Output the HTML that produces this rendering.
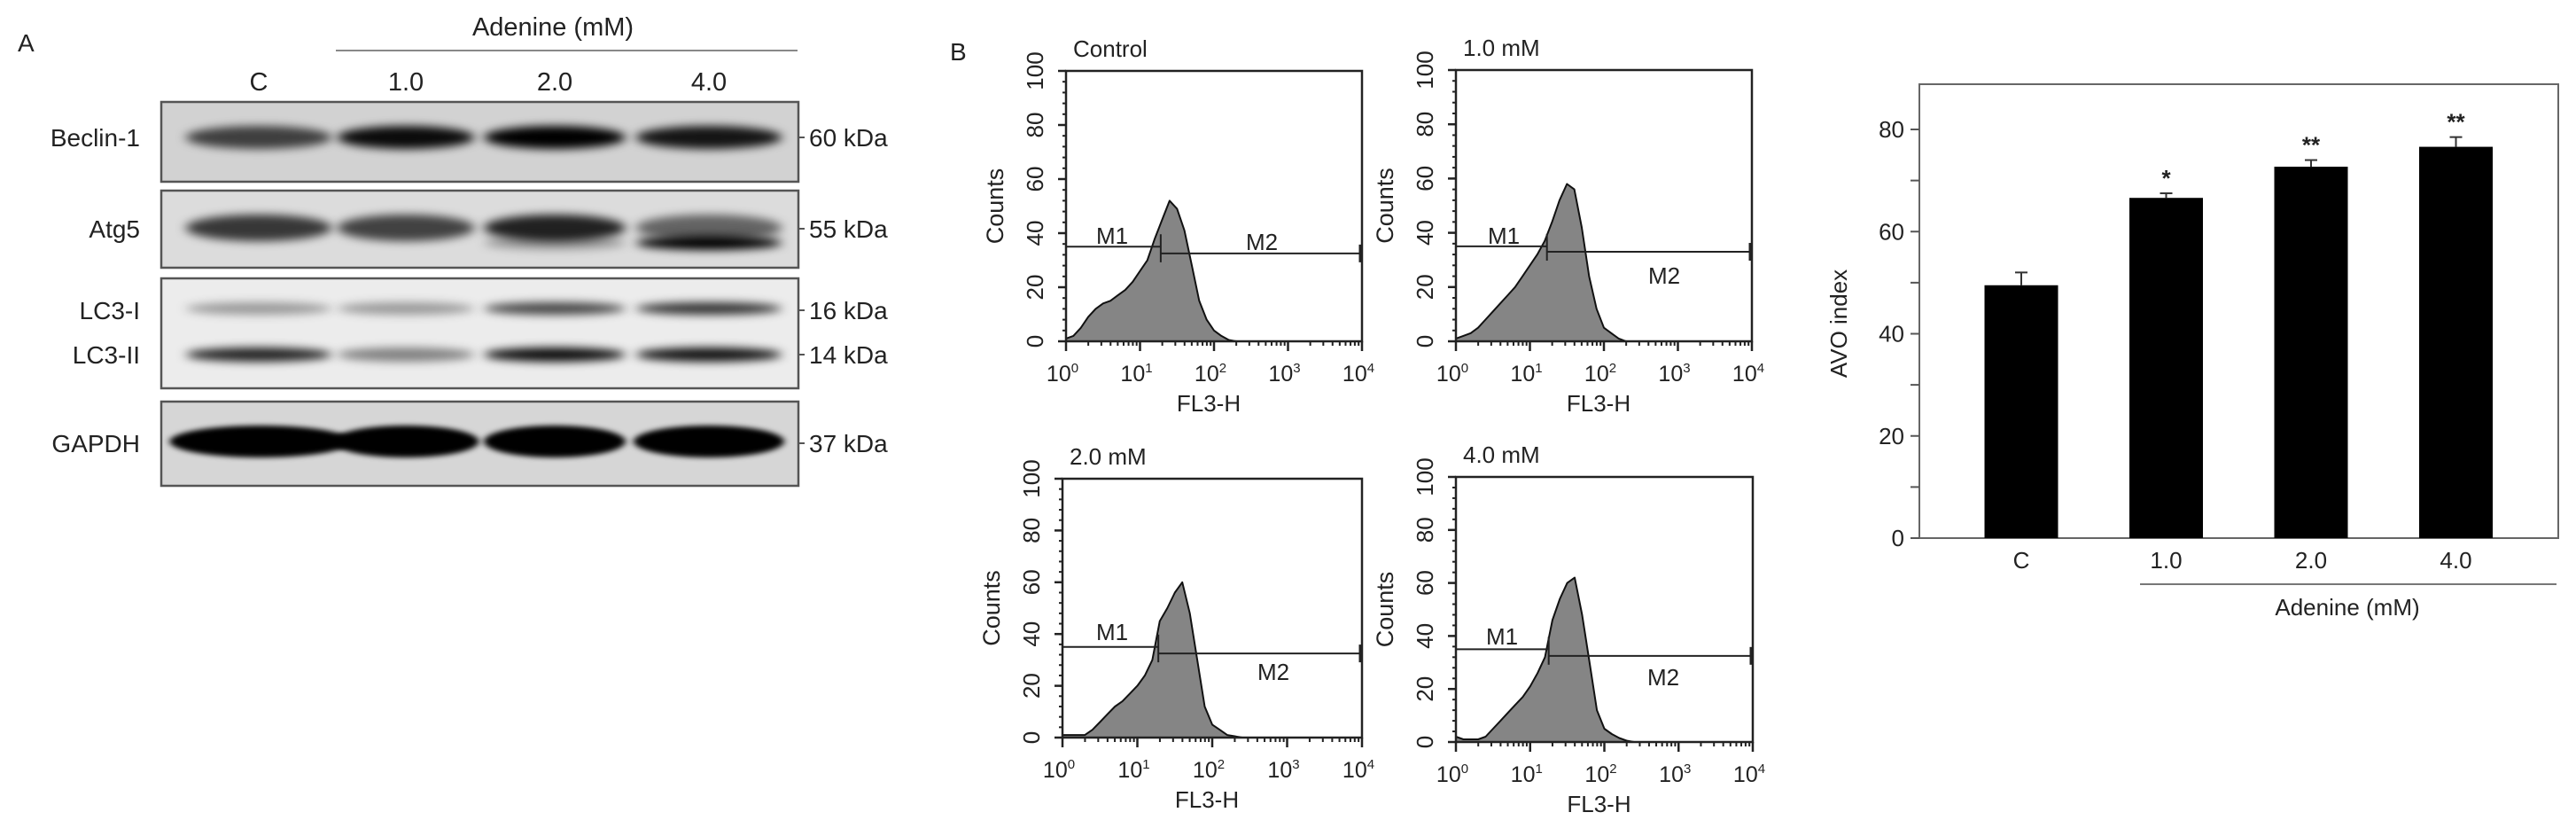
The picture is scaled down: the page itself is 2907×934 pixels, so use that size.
<!DOCTYPE html>
<html><head><meta charset="utf-8">
<style>
html,body{margin:0;padding:0;background:#fff;}
svg{display:block;font-family:"Liberation Sans",Arial,sans-serif;}
</style></head>
<body>
<svg id="fig" width="2907" height="934" viewBox="0 0 2907 934" xmlns="http://www.w3.org/2000/svg">
<defs>
<filter id="blur" x="-20%" y="-100%" width="140%" height="300%"><feGaussianBlur stdDeviation="6 5"/></filter>
<filter id="blur2" x="-20%" y="-100%" width="140%" height="300%"><feGaussianBlur stdDeviation="4 3"/></filter>
</defs>
<g id="panelA"></g>
<g id="panelB"></g>
<g id="panelC"></g>
</svg>
<script>
// ---------- Data ----------
const laneLabels = ["C","1.0","2.0","4.0"];
const beclinIntensity = [0.7, 0.95, 1.0, 0.9];
const atg5Intensity = [0.75, 0.7, 0.85, 0.55];
const atg5LowerIntensity = [0, 0, 0.3, 1.0];
const lc3IIntensity = [0.35, 0.35, 0.7, 0.78];
const lc3IIIntensity = [0.85, 0.45, 0.95, 0.92];
const gapdhIntensity = [1, 1, 1, 1];

const histTitles = ["Control","1.0 mM","2.0 mM","4.0 mM"];
const histLogX = [0,0.1,0.2,0.3,0.4,0.5,0.6,0.7,0.8,0.9,1.0,1.1,1.2,1.3,1.4,1.5,1.6,1.7,1.8,1.9,2.0,2.1,2.2,2.3,2.4,2.6,4.0];
const histControl = [1,2,5,9,12,14,15,17,19,22,26,30,38,45,52,49,41,28,15,8,4,2,0.5,0,0,0,0];
const hist1mM = [1,2,3,5,8,11,14,17,20,24,28,32,37,44,52,58,56,42,24,12,5,3,1,0,0,0,0];
const hist2mM = [1,1,1,1,3,6,9,12,14,17,20,24,30,45,50,56,60,48,30,12,5,3,1,0.5,0,0,0];
const hist4mM = [2,1,1,1,2,5,8,11,14,17,21,26,32,46,54,60,62,48,30,12,5,3,1.5,0.5,0,0,0];
const histData = [histControl, hist1mM, hist2mM, hist4mM];
const gateM1End = [1.28, 1.23, 1.28, 1.25];
const gateM1Count = [35, 35, 35, 35];
const gateM2Count = [32.5, 33, 32.5, 32.5];
const histYTicks = [0,20,40,60,80,100];
const histXTicks = ["0","1","2","3","4"];

const barCategories = ["C","1.0","2.0","4.0"];
const barValues = [49.5, 66.6, 72.7, 76.6];
const barErrors = [2.5, 0.9, 1.3, 1.9];
const barStars = ["", "*", "**", "**"];
const barYTicks = [0,20,40,60,80];
const barMinorTicks = [10,30,50,70];

// ---------- helpers ----------
const NS = "http://www.w3.org/2000/svg";
function mk(tag, attrs, parent){ const e=document.createElementNS(NS,tag); for(const k in attrs) e.setAttribute(k,attrs[k]); if(parent) parent.appendChild(e); return e; }
function txt(parent, s, attrs){ const t=mk("text",attrs,parent); t.textContent=s; return t; }

// ---------- Panel A ----------
const A = document.getElementById("panelA");
let t = txt(A,"A",{x:20,y:58,"font-size":28,fill:"#222"});
 
t = txt(A,"Adenine (mM)",{x:624,y:40,"font-size":29,fill:"#222","text-anchor":"middle"});
 
let l = mk("line",{x1:379,y1:57,x2:900,y2:57,stroke:"#888","stroke-width":2},A);
 
const laneX = [292, 458, 626, 800];
laneLabels.forEach((s,i)=>{ const e=txt(A,s,{x:laneX[i],y:102,"font-size":29,fill:"#222","text-anchor":"middle"});
    });

const blots = [
 {name:"beclin-1",label:["Beclin-1"],labY:[165],kda:["60 kDa"],y0:115,y1:205,bg:"#d2d2d2",bands:[[155,beclinIntensity,13]]},
 {name:"atg5",label:["Atg5"],labY:[268],kda:["55 kDa"],y0:215,y1:302,bg:"#dcdcdc",bands:[[257,atg5Intensity,15],[274,atg5LowerIntensity,8]]},
 {name:"lc3",label:["LC3-I","LC3-II"],labY:[360,410],kda:["16 kDa","14 kDa"],y0:314,y1:438,bg:"#ececec",bands:[[348,lc3IIntensity,7],[400,lc3IIIntensity,8]]},
 {name:"gapdh",label:["GAPDH"],labY:[510],kda:["37 kDa"],y0:453,y1:548,bg:"#d6d6d6",bands:[[498,gapdhIntensity,18]]}
];
const laneW = [165,155,160,165];
blots.forEach(b=>{
  const g=mk("g",{},A);
   
  mk("rect",{x:182,y:b.y0,width:719,height:b.y1-b.y0,fill:b.bg,stroke:"#555","stroke-width":2.5},g);
  const cp = "cp-"+b.name;
  const c=mk("clipPath",{id:cp},g); mk("rect",{x:183,y:b.y0+1,width:717,height:b.y1-b.y0-2},c);
  const bg=mk("g",{"clip-path":"url(#"+cp+")"},g);
  b.bands.forEach(([yc,vals,h],bi)=>{
    vals.forEach((v,i)=>{ if(v<=0) return;
      const w = b.name==="gapdh" ? [205,165,160,170][i] : laneW[i];
      const e=mk("ellipse",{cx:laneX[i]+(b.name==="gapdh"&&i===0?2:0),cy:yc,rx:w/2,ry:h,fill:"#000","fill-opacity":Math.min(1,v),filter:b.name==="gapdh"?"url(#blur2)":"url(#blur)"},bg);
       
    });
  });
  b.label.forEach((s,i)=>{ const e=txt(g,s,{x:158,y:b.labY[i],"font-size":28,fill:"#222","text-anchor":"end"});
     
    const k=txt(g,b.kda[i],{x:913,y:b.labY[i],"font-size":28,fill:"#222"});
     
    mk("line",{x1:901,y1:b.labY[i]-10,x2:908,y2:b.labY[i]-10,stroke:"#555","stroke-width":2},g);
  });
});

// ---------- Panel B ----------
const B = document.getElementById("panelB");
t = txt(B,"B",{x:1072,y:68,"font-size":28,fill:"#222"});
 
const boxes = [
  {x0:1203,x1:1537,y0:80,y1:385, m1lab:[1255,275], m2lab:[1424,282]},
  {x0:1643,x1:1977,y0:79,y1:385, m1lab:[1697,275], m2lab:[1878,320]},
  {x0:1199,x1:1537,y0:540,y1:832, m1lab:[1255,722], m2lab:[1437,767]},
  {x0:1643,x1:1978,y0:538,y1:837, m1lab:[1695,727], m2lab:[1877,773]}
];
boxes.forEach((bx,p)=>{
  const g=mk("g",{},B);
   
  const xs = v => bx.x0 + v/4*(bx.x1-bx.x0);
  const ys = v => bx.y1 - v/100*(bx.y1-bx.y0);
  let d = "M"+xs(0)+","+ys(0);
  histLogX.forEach((lx,i)=>{ d += " L"+xs(lx).toFixed(1)+","+ys(histData[p][i]).toFixed(1); });
  d += " L"+xs(4)+","+ys(0)+" Z";
  const h=mk("path",{d:d,fill:"#858585",stroke:"#111","stroke-width":2,"stroke-linejoin":"round"},g);
   
  mk("rect",{x:bx.x0,y:bx.y0,width:bx.x1-bx.x0,height:bx.y1-bx.y0,fill:"none",stroke:"#222","stroke-width":2.5},g);
  for(let v=0; v<=100; v+=4){ mk("line",{x1:bx.x0-4,y1:ys(v),x2:bx.x0,y2:ys(v),stroke:"#222","stroke-width":2},g); }
  histYTicks.forEach(v=>{
    mk("line",{x1:bx.x0-9,y1:ys(v),x2:bx.x0,y2:ys(v),stroke:"#222","stroke-width":2.5},g);
    const e=txt(g,String(v),{x:0,y:0,"font-size":26,fill:"#222","text-anchor":"middle",transform:"translate("+(bx.x0-26)+","+ys(v)+") rotate(-90)"});
     
  });
  for(let dcd=0; dcd<4; dcd++){ for(let k=2;k<=9;k++){ const xx=xs(dcd+Math.log10(k)); mk("line",{x1:xx,y1:bx.y1,x2:xx,y2:bx.y1+5,stroke:"#222","stroke-width":2},g);} }
  histXTicks.forEach((s,i)=>{
    mk("line",{x1:xs(i),y1:bx.y1,x2:xs(i),y2:bx.y1+11,stroke:"#222","stroke-width":2.5},g);
    const e=txt(g,"10",{x:xs(i)-4,y:bx.y1+45,"font-size":25,fill:"#222","text-anchor":"middle"});
    const sp=mk("tspan",{dy:-10,"font-size":15},e); sp.textContent=s;
     
  });
  let e=txt(g,"FL3-H",{x:(bx.x0+bx.x1)/2-6,y:bx.y1+79,"font-size":26,fill:"#222","text-anchor":"middle"});
   
  e=txt(g,"Counts",{x:0,y:0,"font-size":27,fill:"#222","text-anchor":"middle",transform:"translate("+(bx.x0-71)+","+((bx.y0+bx.y1)/2)+") rotate(-90)"});
   
  e=txt(g,histTitles[p],{x:bx.x0+8,y:bx.y0-16,"font-size":26,fill:"#222"});
   
  const gx=xs(gateM1End[p]);
  mk("line",{x1:bx.x0,y1:ys(gateM1Count[p]),x2:gx,y2:ys(gateM1Count[p]),stroke:"#222","stroke-width":2},g);
  mk("line",{x1:gx,y1:ys(gateM1Count[p])-14,x2:gx,y2:ys(gateM2Count[p])+10,stroke:"#222","stroke-width":2},g);
  mk("line",{x1:gx,y1:ys(gateM2Count[p]),x2:bx.x1,y2:ys(gateM2Count[p]),stroke:"#222","stroke-width":2},g);
  mk("line",{x1:bx.x1-2,y1:ys(gateM2Count[p])-10,x2:bx.x1-2,y2:ys(gateM2Count[p])+10,stroke:"#222","stroke-width":3},g);
  e=txt(g,"M1",{x:bx.m1lab[0],y:bx.m1lab[1],"font-size":26,fill:"#222","text-anchor":"middle"});
   
  e=txt(g,"M2",{x:bx.m2lab[0],y:bx.m2lab[1],"font-size":26,fill:"#222","text-anchor":"middle"});
   
});

// ---------- Bar chart ----------
const C = document.getElementById("panelC");
const px0=2166, px1=2887, py0=95, py1=607;
const yScale = v => py1 - v*(py1-146)/80;
const xScale = i => 2281 + i*163.5;
const bw = 83;
mk("rect",{x:px0,y:py0,width:px1-px0,height:py1-py0,fill:"none",stroke:"#666","stroke-width":2},C);
barYTicks.forEach(v=>{
  mk("line",{x1:px0-10,y1:yScale(v),x2:px0,y2:yScale(v),stroke:"#555","stroke-width":2},C);
  const e=txt(C,String(v),{x:px0-17,y:yScale(v)+9,"font-size":26,fill:"#222","text-anchor":"end"});
   
});
barMinorTicks.forEach(v=>{ mk("line",{x1:px0-10,y1:yScale(v),x2:px0,y2:yScale(v),stroke:"#555","stroke-width":2},C); });
barCategories.forEach((c,i)=>{
  const cx=xScale(i);
  const top=yScale(barValues[i]);
  const et=yScale(barValues[i]+barErrors[i]);
  mk("line",{x1:cx,y1:top,x2:cx,y2:et,stroke:"#333","stroke-width":2},C);
  mk("line",{x1:cx-7,y1:et,x2:cx+7,y2:et,stroke:"#333","stroke-width":2},C);
  const r=mk("rect",{x:cx-bw/2,y:top,width:bw,height:py1-top,fill:"#000"},C);
   
  const e=txt(C,c,{x:cx,y:641,"font-size":26,fill:"#222","text-anchor":"middle"});
   
  if(barStars[i]){ const s=txt(C,barStars[i],{x:cx,y:et-8,"font-size":26,"font-weight":"bold",fill:"#222","text-anchor":"middle"});
      }
});
l=mk("line",{x1:2415,y1:659,x2:2885,y2:659,stroke:"#777","stroke-width":2},C);
 
t=txt(C,"Adenine (mM)",{x:2649,y:694,"font-size":26,fill:"#222","text-anchor":"middle"});
 
t=txt(C,"AVO index",{x:0,y:0,"font-size":26,fill:"#222","text-anchor":"middle",transform:"translate(2084,365) rotate(-90)"});
 
</script>
</body></html>
